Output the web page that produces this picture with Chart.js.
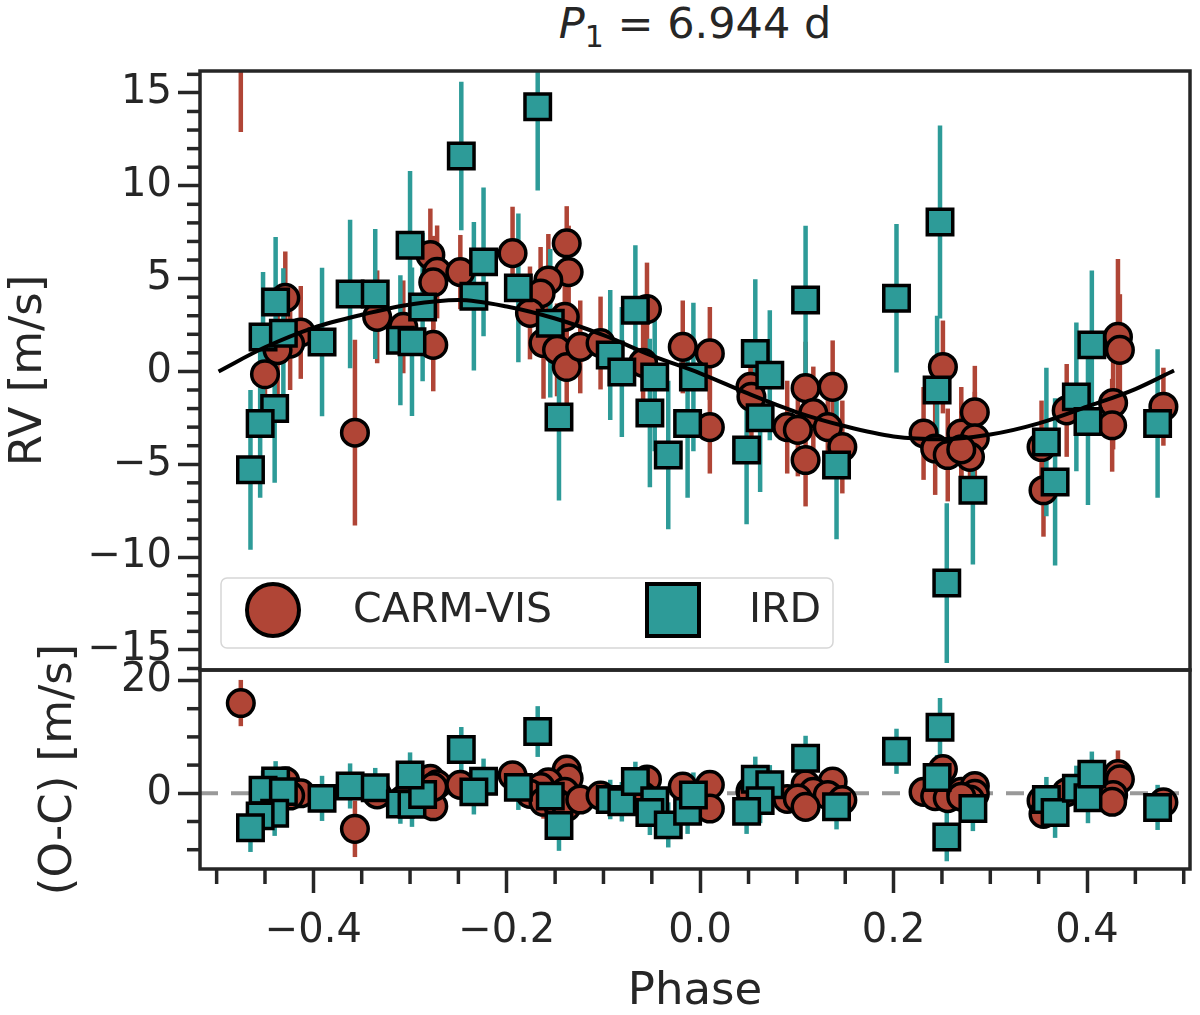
<!DOCTYPE html>
<html>
<head>
<meta charset="utf-8">
<script src="https://cdn.jsdelivr.net/npm/chart.js@4.4.1/dist/chart.umd.min.js"></script>
<style>
  html, body { margin: 0; padding: 0; background: #fff; }
  #wrap { position: relative; width: 1200px; height: 1015px; overflow: hidden;
          font-family: "DejaVu Sans", sans-serif; color: #262626; }
  #title { position: absolute; left: 200px; width: 990px; top: 2px; text-align: center;
           font-size: 43px; line-height: 43px; white-space: nowrap; }
  #title sub { font-size: 30px; line-height: 0; vertical-align: -9px; }
  canvas { position: absolute; left: 0; }
  #top { top: 0; }
  #bot { top: 600px; }
</style>
</head>
<body>
<div id="wrap">
  <div id="title"><i>P</i><sub>1</sub> = 6.944 d</div>
  <canvas id="top" width="1200" height="700"></canvas>
  <canvas id="bot" width="1200" height="415"></canvas>
</div>
<script>
// CARMENES-VIS radial velocities (phase, RV, error, O-C)
const carmPhase = [-0.475, -0.429, -0.413, -0.424, -0.437, -0.450, -0.357, -0.334, -0.307, -0.276,
                   -0.279, -0.272, -0.276, -0.248, -0.194, -0.138, -0.136, -0.157, -0.165, -0.176,
                   -0.140, -0.162, -0.148, -0.138, -0.124, -0.103, -0.055, -0.059, -0.018, 0.010,
                   0.010, 0.052, 0.053, 0.109, 0.137, 0.117, 0.090, 0.101, 0.132, 0.147,
                   0.109, 0.251, 0.231, 0.243, 0.256, 0.270, 0.284, 0.284, 0.279, 0.270,
                   0.353, 0.355, 0.379, 0.432, 0.434, 0.427, 0.426, 0.479];
const carmRv = [17.0, 3.96, 2.10, 1.50, 1.15, -0.15, -3.30, 2.94, 2.40, 1.43,
                6.27, 5.36, 4.80, 5.35, 6.37, 6.90, 5.35, 4.90, 4.20, 3.15,
                2.94, 1.53, 1.16, 0.24, 1.32, 1.53, 3.36, 0.46, 1.32, 0.97,
                -3.00, -0.83, -1.37, -0.90, -0.83, -2.24, -3.00, -3.15, -3.00, -4.07,
                -4.77, 0.24, -3.34, -4.15, -4.50, -3.34, -2.20, -3.60, -4.60, -4.20,
                -4.07, -6.40, -2.10, 1.86, 1.16, -1.70, -2.90, -1.90];
const carmErr = [4.1, 2.5, 2.5, 2.5, 3.0, 2.5, 5.0, 2.5, 2.5, 2.5,
                 2.5, 2.5, 2.5, 2.0, 2.5, 2.0, 2.5, 2.5, 2.5, 2.5,
                 2.5, 3.0, 2.5, 2.5, 2.5, 2.5, 2.5, 2.5, 2.5, 2.5,
                 2.5, 2.5, 2.5, 2.5, 2.5, 2.5, 2.5, 2.5, 2.5, 2.5,
                 2.5, 2.5, 2.5, 2.5, 2.5, 2.5, 2.5, 2.5, 2.5, 2.5,
                 2.5, 2.5, 2.5, 4.2, 3.0, 2.5, 2.5, 2.1];
const carmOc = [16.0, 2.15, 0.0, -0.4, -0.5, -1.5, -6.3, -0.2, -1.1, -2.3,
                2.55, 1.6, 1.1, 1.5, 3.2, 4.2, 2.65, 1.95, 1.1, -0.1,
                0.25, -1.5, -1.7, -2.4, -1.1, -0.4, 2.45, -0.55, 1.2, 1.5,
                -2.7, 0.4, -0.1, 1.6, 2.1, 0.25, -1.0, -0.95, -0.3, -1.2,
                -2.4, 4.3, 0.25, -0.5, -0.85, 0.25, 1.3, -0.1, -1.1, -0.6,
                -1.3, -3.65, 0.2, 3.4, 2.5, -0.3, -1.5, -1.6];

// IRD radial velocities (phase, RV, error, O-C)
const irdPhase = [-0.439, -0.452, -0.431, -0.391, -0.440, -0.455, -0.465, -0.362, -0.336, -0.310,
                  -0.298, -0.287, -0.300, -0.247, -0.168, -0.224, -0.234, -0.188, -0.155, -0.146,
                  -0.093, -0.081, -0.067, -0.047, -0.052, -0.033, -0.013, -0.007, 0.057, 0.072,
                  0.062, 0.048, 0.109, 0.203, 0.141, 0.248, 0.245, 0.282, 0.255, 0.358,
                  0.367, 0.389, 0.401, 0.405, 0.473];
const irdRv = [3.74, 1.85, 2.06, 1.58, -2.00, -2.80, -5.30, 4.17, 4.17, 1.68,
               1.60, 3.47, 6.80, 11.60, 14.25, 5.90, 4.05, 4.50, 2.60, -2.45,
               0.89, -0.03, 3.30, -0.30, -2.24, -4.50, -2.80, -0.30, 0.97, -0.20,
               -2.50, -4.23, 3.85, 3.94, -5.04, 8.05, -1.00, -6.40, -11.40, -3.80,
               -5.95, -1.37, -2.70, 1.43, -2.80];
const irdErr = [3.5, 3.5, 3.5, 4.0, 4.0, 4.0, 4.3, 4.0, 3.5, 3.5,
                4.0, 4.0, 4.0, 4.0, 4.5, 4.0, 4.0, 4.0, 4.0, 4.5,
                3.5, 3.5, 3.5, 4.0, 4.0, 4.0, 4.0, 4.0, 4.0, 3.5,
                4.0, 4.0, 4.0, 4.0, 4.0, 5.2, 4.0, 4.0, 4.3, 4.0,
                4.5, 4.0, 4.5, 4.0, 4.0];
const irdOc = [2.2, 0.55, 0.3, -0.9, -3.55, -4.0, -6.1, 1.3, 1.0, -1.9,
               -1.95, -0.2, 3.25, 7.75, 10.95, 2.15, 0.25, 1.05, -0.5, -5.7,
               -1.1, -1.5, 2.1, -1.3, -3.4, -5.6, -3.2, -0.3, 2.5, 1.5,
               -1.3, -3.2, 6.2, 7.45, -2.4, 11.7, 2.8, -2.7, -7.75, -1.1,
               -3.4, 0.9, -0.8, 3.4, -2.5];

// Keplerian model curve
const modelPhase = [-0.498, -0.45, -0.4, -0.35, -0.3, -0.25, -0.2, -0.15, -0.1, -0.05, 0.0,
                    0.05, 0.1, 0.15, 0.2, 0.25, 0.3, 0.35, 0.4, 0.45, 0.49];
const modelRv = [0.0, 1.3, 2.35, 3.05, 3.6, 3.85, 3.5, 2.85, 1.95, 0.85, -0.1,
                 -1.2, -2.2, -2.95, -3.5, -3.65, -3.4, -2.8, -1.9, -0.95, 0.05];

// ticks
const phaseTicks = [-0.4, -0.2, 0.0, 0.2, 0.4];
const rvTicks = [-15, -10, -5, 0, 5, 10, 15];
const ocTicks = [0, 20];
const ocMinor = [-10, -5, 5, 10, 15];

const INK = '#262626';
const RED = '#b04536';
const TEAL = '#2d9b98';
const FONT = '"DejaVu Sans", sans-serif';
const phaseMin = -0.5172, phaseMax = 0.5065;

Chart.defaults.font.family = FONT;
Chart.defaults.color = INK;

function pts(xs, ys) {
    return xs.map((x, i) => ({x: x, y: ys[i]}));
}

function minusFmt(v, digits) {
    return v.toFixed(digits).replace('-', '\u2212');
}

const tickGrid = (len) => ({
    display: true, drawOnChartArea: false, drawTicks: true,
    tickLength: len, tickWidth: 3.5, tickColor: INK
});

// error bars, minor ticks, frame (and legend on the top panel)
function panelPlugin(bars, yMinor, xMinor, withLegend) {
    return {
        id: 'panel',
        beforeDatasetsDraw(chart) {
            const {ctx, chartArea: a, scales: {x, y}} = chart;
            ctx.save();
            ctx.beginPath();
            ctx.rect(a.left, a.top, a.width, a.height);
            ctx.clip();
            ctx.lineWidth = 4.5;
            bars.forEach(b => {
                ctx.strokeStyle = b.color;
                b.xs.forEach((p, i) => {
                    const cx = x.getPixelForValue(p);
                    ctx.beginPath();
                    ctx.moveTo(cx, y.getPixelForValue(b.ys[i] - b.errs[i]));
                    ctx.lineTo(cx, y.getPixelForValue(b.ys[i] + b.errs[i]));
                    ctx.stroke();
                });
            });
            ctx.restore();
        },
        afterDraw(chart) {
            const {ctx, chartArea: a, scales: {x, y}} = chart;
            ctx.save();
            ctx.strokeStyle = INK;
            ctx.lineWidth = 3.5;
            yMinor.forEach(v => {
                const py = y.getPixelForValue(v);
                ctx.beginPath();
                ctx.moveTo(a.left, py);
                ctx.lineTo(a.left - 13, py);
                ctx.stroke();
            });
            xMinor.forEach(v => {
                const px = x.getPixelForValue(v);
                ctx.beginPath();
                ctx.moveTo(px, a.bottom);
                ctx.lineTo(px, a.bottom + 15);
                ctx.stroke();
            });
            ctx.strokeRect(a.left, a.top, a.width, a.height);

            if (withLegend) {
                ctx.beginPath();
                ctx.roundRect(221, 578, 612, 70, 6);
                ctx.fillStyle = 'rgba(255,255,255,0.8)';
                ctx.fill();
                ctx.lineWidth = 1.5;
                ctx.strokeStyle = '#d6d6d6';
                ctx.stroke();

                ctx.lineWidth = 4;
                ctx.strokeStyle = '#000';
                ctx.beginPath();
                ctx.arc(273, 610, 26, 0, 2 * Math.PI);
                ctx.fillStyle = RED;
                ctx.fill();
                ctx.stroke();

                ctx.fillStyle = TEAL;
                ctx.fillRect(647, 584, 52, 52);
                ctx.strokeRect(647, 584, 52, 52);

                ctx.fillStyle = INK;
                ctx.font = '41px ' + FONT;
                ctx.textBaseline = 'middle';
                ctx.fillText('CARM-VIS', 353, 611);
                ctx.fillText('IRD', 749, 611);
            }
            ctx.restore();
        }
    };
}

const rvMinor = [];
for (let v = -16; v <= 16; v++) {
    if (v % 5 !== 0) rvMinor.push(v);
}
const phaseMinor = [];
for (let k = -10; k <= 10; k++) {
    if (k % 4 !== 0) phaseMinor.push(k * 0.05);
}

function markerSets(carmY, irdY) {
    return [
        {
            label: 'IRD', data: pts(irdPhase, irdY), order: 1, clip: 0,
            pointStyle: 'rect', pointRadius: 18, borderWidth: 3.5,
            backgroundColor: TEAL, borderColor: '#000'
        },
        {
            label: 'CARM-VIS', data: pts(carmPhase, carmY), order: 2, clip: 0,
            pointStyle: 'circle', pointRadius: 13.3, borderWidth: 3.5,
            backgroundColor: RED, borderColor: '#000'
        }
    ];
}

const baseOpts = {
    responsive: false, animation: false, events: [],
    plugins: {legend: {display: false}, tooltip: {enabled: false}}
};

// --- RV panel ---
new Chart(document.getElementById('top'), {
    type: 'scatter',
    data: {
        datasets: [
            {
                label: 'model', data: pts(modelPhase, modelRv), order: 0, clip: 0,
                showLine: true, pointRadius: 0, borderColor: '#000', borderWidth: 4,
                cubicInterpolationMode: 'monotone'
            },
            ...markerSets(carmRv, irdRv)
        ]
    },
    options: {
        ...baseOpts,
        layout: {autoPadding: false, padding: {left: 0, right: 10, top: 71, bottom: 30}},
        scales: {
            x: {type: 'linear', display: false, min: phaseMin, max: phaseMax},
            y: {
                type: 'linear', min: -16.08, max: 16.18,
                afterBuildTicks: s => { s.ticks = rvTicks.map(v => ({value: v})); },
                afterFit: s => { s.width = 200; },
                ticks: {callback: v => minusFmt(v, 0), font: {size: 40}, color: INK, padding: 6},
                grid: tickGrid(22),
                border: {display: false},
                title: {display: true, text: 'RV [m/s]', font: {size: 45}, color: INK,
                        padding: {top: 2, bottom: 0}}
            }
        }
    },
    plugins: [panelPlugin([
        {xs: carmPhase, ys: carmRv, errs: carmErr, color: RED},
        {xs: irdPhase, ys: irdRv, errs: irdErr, color: TEAL}
    ], rvMinor, [], true)]
});

// --- O-C panel ---
new Chart(document.getElementById('bot'), {
    type: 'scatter',
    data: {
        datasets: [
            {
                label: 'zero', data: [{x: phaseMin, y: 0}, {x: phaseMax, y: 0}], order: 3,
                showLine: true, pointRadius: 0, borderColor: '#999999', borderWidth: 4,
                borderDash: [18, 13]
            },
            ...markerSets(carmOc, irdOc)
        ]
    },
    options: {
        ...baseOpts,
        layout: {autoPadding: false, padding: {left: 0, right: 10, top: 70, bottom: 0}},
        scales: {
            x: {
                type: 'linear', min: phaseMin, max: phaseMax,
                afterBuildTicks: s => { s.ticks = phaseTicks.map(v => ({value: v})); },
                afterFit: s => { s.height = 146; },
                ticks: {callback: v => minusFmt(v, 1), font: {size: 40}, color: INK, padding: 15,
                        maxRotation: 0, autoSkip: false},
                grid: tickGrid(24),
                border: {display: false},
                title: {display: true, text: 'Phase', font: {size: 45, lineHeight: 1.0}, color: INK,
                        padding: {top: 0, bottom: 0}}
            },
            y: {
                type: 'linear', min: -13.42, max: 21.86,
                afterBuildTicks: s => { s.ticks = ocTicks.map(v => ({value: v})); },
                afterFit: s => { s.width = 200; },
                ticks: {callback: v => minusFmt(v, 0), font: {size: 40}, color: INK, padding: 6},
                grid: tickGrid(22),
                border: {display: false},
                title: {display: true, text: '(O-C) [m/s]', font: {size: 45}, color: INK,
                        padding: {top: 32, bottom: 0}}
            }
        }
    },
    plugins: [panelPlugin([
        {xs: carmPhase, ys: carmOc, errs: carmErr, color: RED},
        {xs: irdPhase, ys: irdOc, errs: irdErr, color: TEAL}
    ], ocMinor, phaseMinor, false)]
});
</script>
</body>
</html>
